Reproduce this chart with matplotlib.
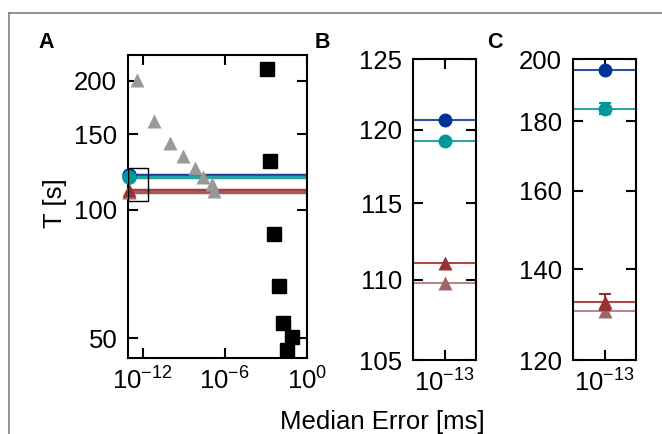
import matplotlib
matplotlib.use("Agg")
import matplotlib.pyplot as plt
from matplotlib.ticker import NullLocator
from matplotlib.patches import Rectangle
from matplotlib.lines import Line2D

plt.rcParams['font.family'] = ['Liberation Sans', 'DejaVu Sans']
plt.rcParams['mathtext.fontset'] = 'custom'
plt.rcParams['mathtext.rm'] = 'Liberation Sans'
plt.rcParams['mathtext.it'] = 'Liberation Sans:italic'
plt.rcParams['mathtext.bf'] = 'Liberation Sans:bold'

# panel A: error vs. run time of the approximate solvers
tri_err = [10**-12.40, 10**-11.15, 10**-10.00, 10**-9.03, 10**-8.18,
           10**-7.55, 10**-6.92, 10**-6.77]
tri_T = [201, 161, 143.4, 133.4, 125.5, 119.5, 114.9, 110.8]
sq_err = [10**-2.93, 10**-2.69, 10**-2.40, 10**-2.03, 10**-1.76,
          10**-1.10, 10**-1.47]
sq_T = [213, 130.3, 87.9, 66.2, 54.3, 50.3, 47.0]

# exact solvers (error ~1e-13)
exact_err = 1e-13
T_B = [120.7, 119.2, 111.1, 109.8]
T_C = [196.4, 183.9, 132.4, 130.4]
err_C = [0.0, 1.8, 1.8, 0.0]

markers = ['o', 'o', '^', '^']
mcolors = ['#003399', '#009999', '#993333', '#a06666']
lcolors = ['#2f4fa3', '#2aa6a6', '#b04848', '#b88888']
acolors = ['#1f3f99', '#22a3a3', '#a03c3c', '#a85a5a']

FS = 18.5

fig = plt.figure(figsize=(6.62, 4.34), dpi=100)

# figure frame (top and left edges)
fig.add_artist(Line2D([9/662, 1], [1 - 12.7/434] * 2, color='#808080', lw=1.2,
                      transform=fig.transFigure))
fig.add_artist(Line2D([9/662] * 2, [0, 1 - 12.7/434], color='#808080', lw=1.2,
                      transform=fig.transFigure))

axA = fig.add_axes([0.1938, 0.1751, 0.2695, 0.6982])
axB = fig.add_axes([0.6243, 0.1705, 0.0947, 0.6929])
axC = fig.add_axes([0.8660, 0.1705, 0.0947, 0.6929])

for ax in (axA, axB, axC):
    ax.set_xscale('log')
    ax.set_yscale('log')
    for s in ax.spines.values():
        s.set_linewidth(1.5)
    ax.tick_params(which='both', direction='in', top=True, right=True,
                   length=7, width=1.5, labelsize=FS)
    ax.tick_params(axis='y', pad=8)
    ax.tick_params(axis='x', pad=7)

# A
for i in range(4):
    axA.axhline(T_B[i], color=acolors[i], lw=2.5, zorder=2)
axA.plot(tri_err, tri_T, '^', color='#999999', ms=10.5, mec='none', zorder=3)
axA.plot(sq_err, sq_T, 's', color='black', ms=10, zorder=3)
for i in [3, 2, 0, 1]:
    axA.plot([exact_err], [T_B[i]], markers[i], color=mcolors[i], ms=10.5,
             mec='none', clip_on=False, zorder=4)
axA.add_patch(Rectangle((10**-13.1, 105), 10**-11.6 - 10**-13.1, 20,
                        fill=False, lw=1, ec='black', zorder=5))
axA.set_xlim(10**-13.05, 1)
axA.set_ylim(45, 230)
axA.set_xticks([1e-12, 1e-6, 1])
axA.set_yticks([50, 100, 150, 200])
axA.set_yticklabels(['50', '100', '150', '200'])
axA.yaxis.set_minor_locator(NullLocator())
axA.xaxis.set_minor_locator(NullLocator())

# B and C: zoom on the exact solvers
for ax, T, errs in ((axB, T_B, None), (axC, T_C, err_C)):
    for i in range(4):
        ax.axhline(T[i], color=lcolors[i], lw=1.5, zorder=2)
    for i in [3, 2, 1, 0]:
        if errs is not None and errs[i] > 0:
            ax.errorbar([exact_err], [T[i]], yerr=errs[i], fmt=markers[i],
                        color=mcolors[i], ms=10, mec='none', elinewidth=1.5,
                        capsize=4, capthick=1.5, zorder=3)
        else:
            ax.plot([exact_err], [T[i]], markers[i], color=mcolors[i], ms=10,
                    mec='none', zorder=3)
    ax.set_xlim(10**-13.5, 10**-12.5)
    ax.set_xticks([1e-13])
    ax.xaxis.set_minor_locator(NullLocator())

axB.set_ylim(105, 125)
axB.set_yticks([105, 110, 115, 120, 125])
axB.set_yticklabels(['105', '110', '115', '120', '125'])
axB.yaxis.set_minor_locator(NullLocator())

axC.set_ylim(120, 200)
axC.set_yticks([120, 140, 160, 180, 200])
axC.set_yticklabels(['120', '140', '160', '180', '200'])
axC.yaxis.set_minor_locator(NullLocator())

fig.text(54.7/662, 1 - 202.7/434, 'T [s]', rotation=90, ha='center',
         va='center', fontsize=FS)
fig.text(382/662, 1 - 429/434, 'Median Error [ms]', ha='center',
         va='baseline', fontsize=FS)

for lab, x in (('A', 38), ('B', 315), ('C', 487)):
    fig.text(x/662, 1 - 48/434, lab, fontsize=15.5, fontweight='bold',
             va='baseline', ha='left')

fig.savefig('out.png', dpi=100)
